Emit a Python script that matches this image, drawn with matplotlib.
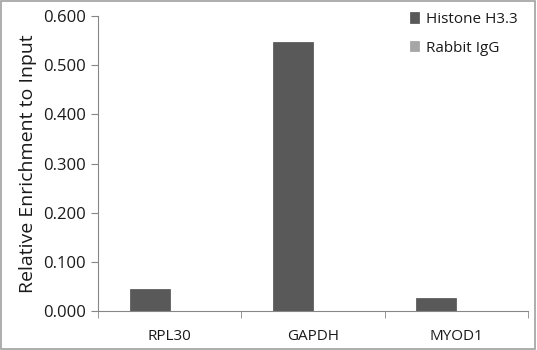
import numpy as np
import matplotlib.pyplot as plt
from matplotlib.patches import Rectangle

# ChIP-qPCR enrichment values
targets = ['RPL30', 'GAPDH', 'MYOD1']
histone_h33 = [0.045, 0.548, 0.026]
rabbit_igg = [0.001, 0.0005, 0.0005]
yticks = [0.0, 0.1, 0.2, 0.3, 0.4, 0.5, 0.6]

plt.rcParams['font.family'] = ['Open Sans', 'DejaVu Sans']
axis_grey = '#868686'
text_col = '#1a1a1a'

fig = plt.figure(figsize=(5.37, 3.50), dpi=100)
ax = fig.add_axes([0.1825, 0.1114, 0.8005, 0.8429])

x = np.arange(len(targets))
w = 0.28
ax.bar(x - w / 2, histone_h33, width=w, color='#595959', edgecolor='#505050',
       linewidth=0.5, label='Histone H3.3')
ax.bar(x + w / 2, rabbit_igg, width=w, color='#a6a6a6', edgecolor='#a0a0a0',
       linewidth=0.5, label='Rabbit IgG')

ax.set_xlim(-0.5, len(targets) - 0.5)
ax.set_ylim(0, 0.6)
ax.set_yticks(yticks)
ax.set_yticklabels(['%.3f' % v for v in yticks], fontsize=12, color=text_col)
ax.set_xticks(x)
ax.set_xticklabels(targets, fontsize=11, color=text_col)
# category boundary ticks
ax.set_xticks(np.arange(-0.5, len(targets), 1.0), minor=True)
ax.tick_params(axis='x', which='major', length=0, pad=13)
ax.tick_params(axis='x', which='minor', length=5, color=axis_grey, direction='out')
ax.tick_params(axis='y', length=5, color=axis_grey, pad=4)

for side in ['top', 'right']:
    ax.spines[side].set_visible(False)
for side in ['left', 'bottom']:
    ax.spines[side].set_color(axis_grey)
    ax.spines[side].set_linewidth(0.8)

ax.set_ylabel('Relative Enrichment to Input', fontsize=14, color=text_col, labelpad=4)

leg = ax.legend(loc='upper right', bbox_to_anchor=(1.0, 1.05), frameon=False,
                fontsize=11, handlelength=0.65, handleheight=0.65,
                handletextpad=0.4, labelspacing=0.9, borderaxespad=0.3)
for t in leg.get_texts():
    t.set_color(text_col)

# outer frame
fig.patches.append(Rectangle((0.002, 0.003), 0.995, 0.993, transform=fig.transFigure,
                             fill=False, edgecolor='#a0a0a0', linewidth=1.2))

fig.savefig('out.png', dpi=100)
